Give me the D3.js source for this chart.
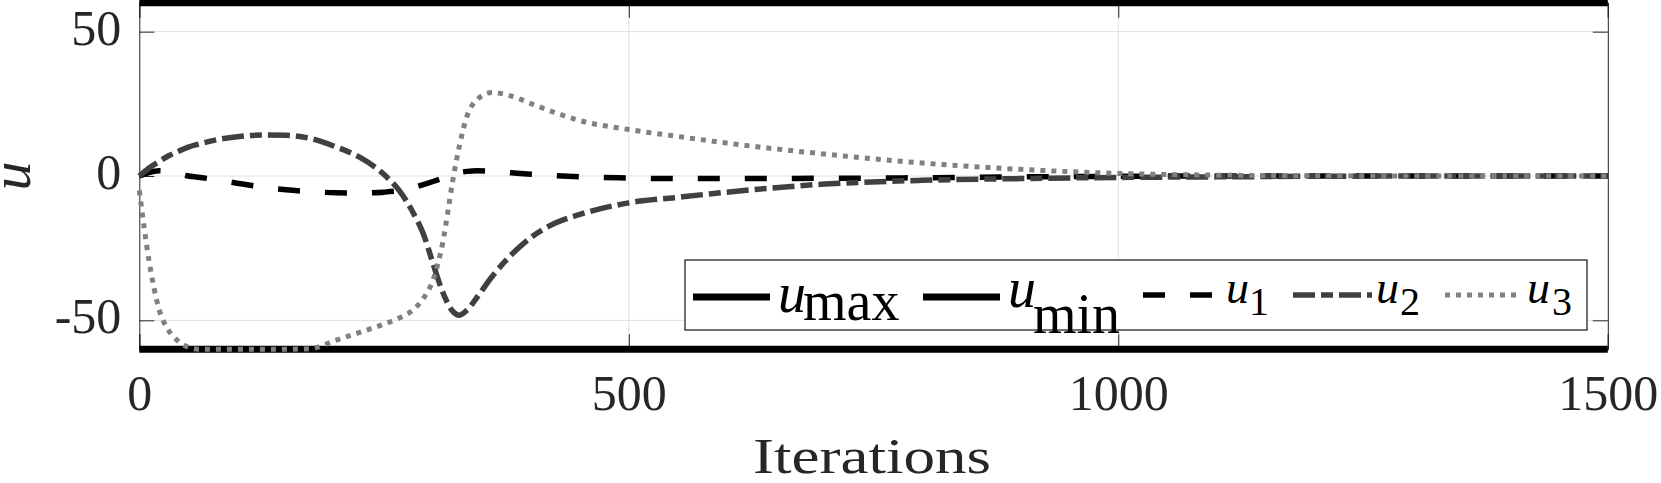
<!DOCTYPE html>
<html>
<head>
<meta charset="utf-8">
<script src="https://cdn.jsdelivr.net/npm/d3@7"></script>
<style>
  body { margin: 0; background: #fff; }
  svg, svg text { font-family: "Liberation Serif", "Times New Roman", serif; }
  svg { display: block; }
  .tick text { font-size: 50px; fill: #262626; font-family: "Liberation Serif", serif; }
  .tick line { stroke: #262626; stroke-width: 1; }
</style>
</head>
<body>
<div id="chart"></div>
<script>
// values
var iterations = [0, 10, 20, 30, 40, 50, 60, 80, 100, 125, 150, 175, 200, 225, 250, 265, 280, 290, 300, 310,
                  320, 327, 335, 345, 360, 380, 400, 425, 450, 500, 550, 600, 700, 800, 900, 1000, 1100, 1200, 1300, 1400, 1500];
var u1Values = [0, 1.2, 1.8, 1.5, 0.8, 0, -0.4, -1.4, -2.5, -3.8, -4.8, -5.4, -5.8, -5.9, -5.6, -5.1, -4.0, -3.0, -1.9, -0.7,
                0.5, 1.2, 1.6, 1.8, 1.6, 1.1, 0.6, 0.1, -0.3, -0.7, -0.9, -0.9, -0.8, -0.6, -0.3, -0.1, 0, 0, 0, 0, 0];
var u2Values = [0, 2.8, 5.0, 7.0, 8.6, 10.0, 11.0, 12.6, 13.6, 14.2, 14.1, 13.0, 10.2, 6.5, 0.5, -4.8, -12.9, -19.9, -30.3, -40.3,
                -46.8, -48.2, -46.4, -42, -35, -27.3, -21.3, -16.3, -13.3, -9.3, -7.4, -5.6, -2.8, -1.5, -0.9, -0.5, -0.3, -0.1, 0, 0, 0];
var u3Values = [-5, -29.5, -46, -53.5, -57.3, -59.3, -60, -60, -60, -60, -60, -59.8, -57, -54.2, -51.3, -49.3, -46.3, -42.5, -36, -23,
                -2, 10.5, 21, 26.4, 28.9, 27.7, 25.1, 21.9, 19.2, 16.1, 13.7, 11.4, 7.6, 4.5, 2.3, 0.9, 0.3, 0.1, 0, 0, 0];
var uMaxValue = 60;
var uMinValue = -60;
var xDomain = [0, 1500];
var yDomain = [-60, 60];
var xTicks = [0, 500, 1000, 1500];
var yTicks = [-50, 0, 50];
var seriesNames = ["max", "min", "1", "2", "3"];

var svgWidth = 1661, svgHeight = 483;
var margin = {top: 2.8, left: 139.3};
var width = 1607.8 - margin.left;
var height = 349.2 - margin.top;

var svg = d3.select("#chart")
            .append("svg")
              .attr("width", svgWidth)
              .attr("height", svgHeight);

var chart = svg.append("g")
               .attr("transform", "translate(" + margin.left + "," + margin.top + ")");

var x = d3.scaleLinear().domain(xDomain).range([0, width]);
var y = d3.scaleLinear().domain(yDomain).range([height, 0]);

//grid lines
chart.selectAll(".gridx").data(xTicks.slice(1, -1)).enter()
  .append("line")
    .attr("x1", d => x(d)).attr("x2", d => x(d))
    .attr("y1", 0).attr("y2", height)
    .attr("stroke", "#dfdfdf").attr("stroke-width", 1);
chart.selectAll(".gridy").data(yTicks).enter()
  .append("line")
    .attr("x1", 0).attr("x2", width)
    .attr("y1", d => y(d)).attr("y2", d => y(d))
    .attr("stroke", "#dfdfdf").attr("stroke-width", 1);

//axes with inward ticks
var fmt = d => String(d);
var xAxis = chart.append("g")
                 .attr("transform", "translate(0," + height + ")")
                 .call(d3.axisBottom(x).tickValues(xTicks).tickSize(-15).tickFormat(fmt));
xAxis.selectAll(".tick text").attr("y", 61).attr("dy", 0);

var yAxis = chart.append("g")
                 .call(d3.axisLeft(y).tickValues(yTicks).tickSize(-15).tickFormat(fmt));
yAxis.selectAll(".tick text").attr("x", -18).attr("dy", "0.25em");

chart.append("g")
     .call(d3.axisTop(x).tickValues(xTicks).tickSize(-15).tickFormat(""));
chart.append("g")
     .attr("transform", "translate(" + width + ",0)")
     .call(d3.axisRight(y).tickValues(yTicks).tickSize(-15).tickFormat(""));
chart.selectAll(".domain").attr("stroke", "#262626").attr("stroke-width", 1);
chart.selectAll("g").attr("font-family", null);

//axis labels
svg.append("text")
   .attr("x", 872).attr("y", 473)
   .attr("text-anchor", "middle")
   .attr("font-size", 50)
   .attr("textLength", 238).attr("lengthAdjust", "spacingAndGlyphs")
   .attr("fill", "#262626")
   .text("Iterations");

svg.append("text")
   .attr("transform", "translate(30," + (margin.top + y(0)) + ") rotate(-90)")
   .attr("text-anchor", "middle")
   .attr("font-size", 58)
   .attr("font-style", "italic")
   .attr("fill", "#262626")
   .text("u");

//series styles
var styles = [
  {color: "#000000", width: 7, dash: null},
  {color: "#000000", width: 7, dash: null},
  {color: "#000000", width: 5.5, dash: "22,25"},
  {color: "#404040", width: 5.5, dash: "22,6,12,6"},
  {color: "#808080", width: 5, dash: "5,6"}
];

var series = [
  iterations.map(() => uMaxValue),
  iterations.map(() => uMinValue),
  u1Values,
  u2Values,
  u3Values
];

var line = d3.line()
             .x(d => x(d[0]))
             .y(d => y(d[1]))
             .curve(d3.curveMonotoneX);

series.forEach((vals, i) => {
  chart.append("path")
       .datum(iterations.map((it, j) => [it, vals[j]]))
       .attr("fill", "none")
       .attr("stroke", styles[i].color)
       .attr("stroke-width", styles[i].width)
       .attr("stroke-dasharray", styles[i].dash)
       .attr("d", line);
});

//legend
var legendBox = {x: 685, y: 260, w: 902, h: 70};
var legendLayout = [
  {x0: 693, x1: 770, ly: 297, ux: 778, uy: 312, us: 56, sx: 803, sy: 320, ss: 56},
  {x0: 923, x1: 1000, ly: 297, ux: 1008, uy: 307, us: 56, sx: 1033, sy: 333, ss: 56},
  {x0: 1143, x1: 1213, ly: 295, ux: 1226, uy: 303, us: 46, sx: 1249, sy: 315, ss: 40},
  {x0: 1293, x1: 1372, ly: 295, ux: 1376, uy: 303, us: 46, sx: 1400, sy: 315, ss: 40},
  {x0: 1445, x1: 1518, ly: 295, ux: 1527, uy: 303, us: 46, sx: 1552, sy: 315, ss: 40}
];

var legend = svg.append("g");
legend.append("rect")
      .attr("x", legendBox.x).attr("y", legendBox.y)
      .attr("width", legendBox.w).attr("height", legendBox.h)
      .attr("fill", "#fff").attr("stroke", "#262626").attr("stroke-width", 1.3);

seriesNames.forEach((name, i) => {
  var l = legendLayout[i];
  legend.append("line")
        .attr("x1", l.x0).attr("x2", l.x1)
        .attr("y1", l.ly).attr("y2", l.ly)
        .attr("stroke", styles[i].color)
        .attr("stroke-width", styles[i].width)
        .attr("stroke-dasharray", styles[i].dash);
  legend.append("text")
        .attr("x", l.ux).attr("y", l.uy)
        .attr("font-size", l.us).attr("font-style", "italic")
        .attr("fill", "#000")
        .text("u");
  legend.append("text")
        .attr("x", l.sx).attr("y", l.sy)
        .attr("font-size", l.ss)
        .attr("fill", "#000")
        .text(name);
});
</script>
</body>
</html>
